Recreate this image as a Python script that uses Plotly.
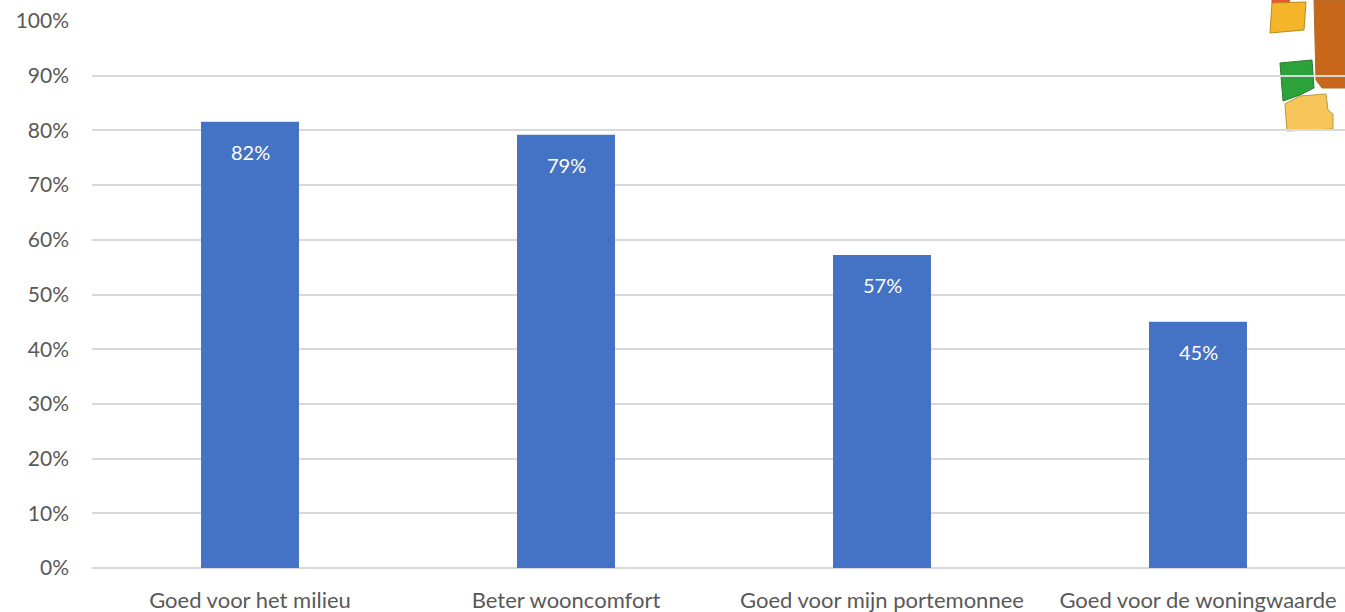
import plotly.graph_objects as go

categories = ["Goed voor het milieu", "Beter wooncomfort", "Goed voor mijn portemonnee", "Goed voor de woningwaarde"]
values = [0.816, 0.792, 0.572, 0.450]
value_labels = ["82%", "79%", "57%", "45%"]
y_ticks = [i / 10 for i in range(11)]
y_tick_labels = [f"{i * 10}%" for i in range(11)]

W, H = 1345, 612
ML, MR, MT, MB = 92, 0, 21, 44
PW, PH = W - ML - MR, H - MT - MB

def px(x, y):
    return (x - ML) / PW, (H - MB - y) / PH

def poly(points):
    parts = []
    for i, (x, y) in enumerate(points):
        a, b = px(x, y)
        parts.append(("M" if i == 0 else "L") + f"{a:.5f},{b:.5f}")
    return " ".join(parts) + " Z"

fig = go.Figure()
fig.add_trace(go.Bar(
    x=categories, y=values,
    marker=dict(color="#4472C4", line=dict(width=0)),
    width=0.31,
    hoverinfo="x+y",
))

annotations = []
for c, v, t in zip(categories, values, value_labels):
    annotations.append(dict(x=c, y=v, xref="x", yref="y", text=t, showarrow=False,
                            yanchor="middle", yshift=-30,
                            font=dict(color="white", size=20, family="Lato")))

logo = [
    ([(1272, 0), (1290, 0), (1288, 4), (1272, 4)], "#E8553A", "#E8553A"),
    ([(1272, 3), (1306, 2), (1304, 30), (1270, 33)], "#F5B52A", "#B88A1A"),
    ([(1314, 0), (1345, 0), (1345, 88), (1322, 88), (1316, 80)], "#C8661A", "#A9702E"),
    ([(1280, 63), (1312, 60), (1314, 88), (1300, 95), (1283, 101)], "#2BA33A", "#2B7A30"),
    ([(1285, 104), (1300, 96), (1326, 94), (1328, 110), (1333, 114), (1333, 129), (1287, 131)], "#F7C55A", "#B89A40"),
]
shapes = []
for pts, fill, line in logo:
    shapes.append(dict(type="path", xref="paper", yref="paper", path=poly(pts),
                       fillcolor=fill, line=dict(color=line, width=1), layer="below"))

fig.update_layout(
    width=W, height=H,
    margin=dict(l=ML, r=MR, t=MT, b=MB, pad=0),
    paper_bgcolor="white", plot_bgcolor="white",
    showlegend=False,
    font=dict(family="Lato", color="#595959"),
    shapes=shapes,
    annotations=annotations,
    xaxis=dict(range=[-0.5, -0.5 + PW / 316], showgrid=False, showline=False, ticks="",
               tickfont=dict(size=22, color="#595959"), ticklabelstandoff=17, fixedrange=True),
    yaxis=dict(range=[0, 1], tickvals=y_ticks, ticktext=y_tick_labels,
               showgrid=True, gridcolor="#D9D9D9", gridwidth=2,
               zeroline=True, zerolinecolor="#D9D9D9", zerolinewidth=2,
               showline=False, ticks="", tickfont=dict(size=21, color="#595959"),
               ticklabelstandoff=22, fixedrange=True),
)
fig.write_html("out.html", config={"displayModeBar": False},
               post_script="document.body.style.margin='0';document.body.style.overflow='hidden';")
